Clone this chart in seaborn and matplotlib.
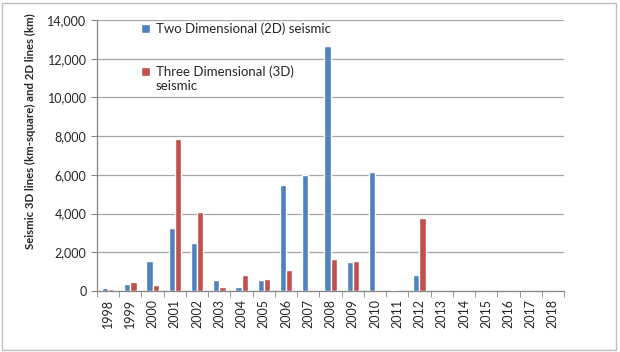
import pandas as pd
import seaborn as sns
import matplotlib.pyplot as plt
from matplotlib.patches import Rectangle
from matplotlib.ticker import FuncFormatter, FixedLocator

# data
years = [str(y) for y in range(1998, 2019)]
seismic_2d = [170, 380, 1550, 3240, 2500, 570, 190, 570, 5460, 6010, 12660,
              1480, 6150, 30, 830, 20, 0, 0, 0, 0, 0]
seismic_3d = [90, 480, 290, 7870, 4060, 190, 810, 620, 1100, 0, 1640,
              1550, 0, 0, 3770, 0, 0, 0, 0, 0, 0]
series_names = ["Two Dimensional (2D) seismic", "Three Dimensional (3D)"]

df = pd.DataFrame({
    "year": years * 2,
    "value": seismic_2d + seismic_3d,
    "series": [series_names[0]] * len(years) + [series_names[1]] * len(years),
})

sns.set_style("white")
plt.rcParams['font.family'] = ['Lato', 'DejaVu Sans']

fig = plt.figure(figsize=(6.2, 3.52), dpi=100)
ax = fig.add_axes([97 / 620, 1 - 291 / 352, 467 / 620, 271 / 352])

sns.barplot(data=df, x="year", y="value", hue="series", order=years,
            palette=["#4F81BD", "#C0504D"], width=0.56, saturation=1,
            ax=ax, zorder=3)

ax.set_ylim(0, 14000)
ax.set_xlim(-0.5, len(years) - 0.5)
ax.set_yticks(range(0, 14001, 2000))
ax.yaxis.set_major_formatter(FuncFormatter(lambda v, p: f"{int(v):,}"))
ax.grid(axis="y", color="#A6A6A6", linewidth=0.9, zorder=0)
ax.set_axisbelow(True)

for s in ["top", "right"]:
    ax.spines[s].set_visible(False)
for s in ["left", "bottom"]:
    ax.spines[s].set_color("#868686")
    ax.spines[s].set_linewidth(0.9)

ax.tick_params(axis="x", which="major", length=0, labelrotation=90, labelsize=9, pad=6)
ax.xaxis.set_minor_locator(FixedLocator([i - 0.5 for i in range(len(years) + 1)]))
ax.tick_params(axis="x", which="minor", length=4, color="#868686", direction="out", bottom=True)
ax.tick_params(axis="y", length=4, color="#868686", direction="out", left=True, labelsize=9)

ax.set_xlabel("")
ax.set_ylabel("Seismic 3D lines (km-square) and 2D lines (km)", fontsize=8.2,
              fontweight="bold")
ax.yaxis.set_label_coords(-0.13, 0.59)

leg = ax.legend(loc="upper left", bbox_to_anchor=(0.075, 1.026), frameon=False,
                fontsize=9.5, handlelength=0.7, handleheight=0.7,
                handletextpad=0.4, labelspacing=2.35, borderaxespad=0.3)

# wrapped second line of the 3D legend label
fig.canvas.draw()
lt = leg.get_texts()[1]
bb = lt.get_window_extent()
x0, y0 = fig.transFigure.inverted().transform((bb.x0, bb.y0))
fig.text(x0, y0 - 1.5 / 352, "seismic", fontsize=9.5, va="top", ha="left")

fig.patches.append(Rectangle((0.004, 0.006), 0.99, 0.985, transform=fig.transFigure,
                             fill=False, edgecolor="#BFBFBF", linewidth=1))

plt.savefig("out.png", dpi=100)
